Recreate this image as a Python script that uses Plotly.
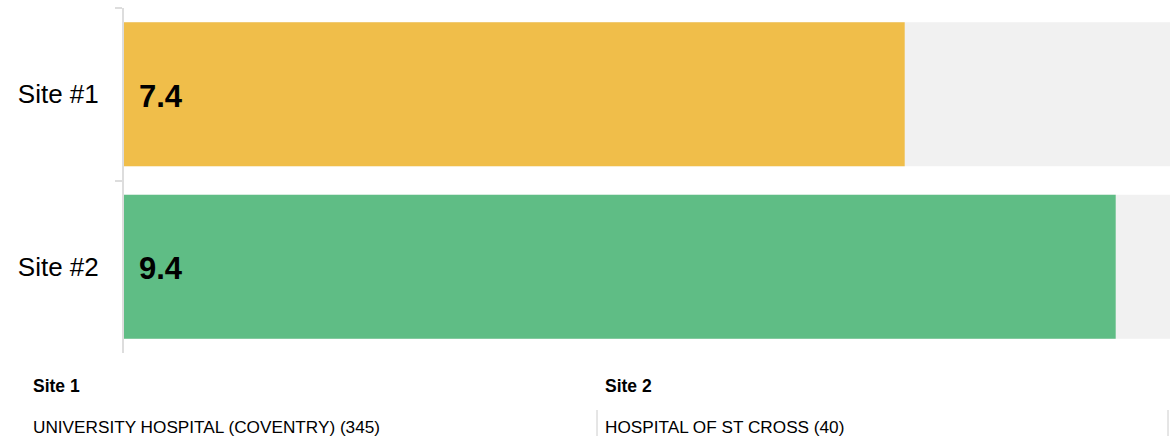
import plotly.graph_objects as go

sites = ["Site #1", "Site #2"]
scores = [7.4, 9.4]
score_max = [10, 10]
bar_colors = ["#F0BE4A", "#5FBD85"]
site_headers = ["Site 1", "Site 2"]
site_names = ["UNIVERSITY HOSPITAL (COVENTRY) (345)", "HOSPITAL OF ST CROSS (40)"]

W, H = 1170, 436
L, R, T, B = 124, 0, 8, 83
pw, ph = W - L - R, H - T - B


def px(x):
    return (x - L) / pw


def py(y):
    return (H - B - y) / ph


fig = go.Figure()
fig.add_trace(go.Bar(y=sites, x=score_max, orientation="h",
                     marker=dict(color="#F1F1F1", line_width=0),
                     hoverinfo="skip"))
fig.add_trace(go.Bar(y=sites, x=scores, orientation="h",
                     marker=dict(color=bar_colors, line_width=0)))

for s, v in zip(sites, scores):
    fig.add_annotation(x=0, y=s, text=f"<b>{v}</b>", showarrow=False,
                       xanchor="left", xshift=13, yshift=-2,
                       font=dict(size=31, color="#000000", family="Arial"))

# footer: site list
cols = [31, 603]
for i, (hdr, name) in enumerate(zip(site_headers, site_names)):
    fig.add_annotation(xref="paper", yref="paper", x=px(cols[i]), y=py(386),
                       text=f"<b>{hdr}</b>", showarrow=False,
                       xanchor="left", yanchor="middle",
                       font=dict(size=17.5, color="#000000", family="Arial"))
    fig.add_annotation(xref="paper", yref="paper", x=px(cols[i]), y=py(427),
                       text=name, showarrow=False,
                       xanchor="left", yanchor="middle",
                       font=dict(size=17.2, color="#000000", family="Arial"))

for xl in [597, 1168]:
    fig.add_shape(type="line", xref="paper", yref="paper",
                  x0=px(xl), x1=px(xl), y0=py(410), y1=py(436),
                  line=dict(color="#cccccc", width=1))

fig.update_layout(
    width=W, height=H,
    margin=dict(l=L, r=R, t=T, b=B),
    barmode="overlay", bargap=0.165,
    plot_bgcolor="white", paper_bgcolor="white",
    showlegend=False,
    font=dict(family="Arial", color="#000000"),
)
fig.update_xaxes(range=[0, pw / 105.5], visible=False, showgrid=False)
fig.update_yaxes(autorange="reversed", showline=True, linecolor="#dddddd",
                 linewidth=2, ticks="outside", tickson="boundaries",
                 ticklen=7, tickcolor="#dddddd", tickwidth=2,
                 ticklabelstandoff=18, showgrid=False,
                 tickfont=dict(size=26, color="#000000"))

fig.write_html("out.html", config={"displayModeBar": False},
               post_script="document.body.style.margin='0';"
                           "document.body.style.overflow='hidden';")
